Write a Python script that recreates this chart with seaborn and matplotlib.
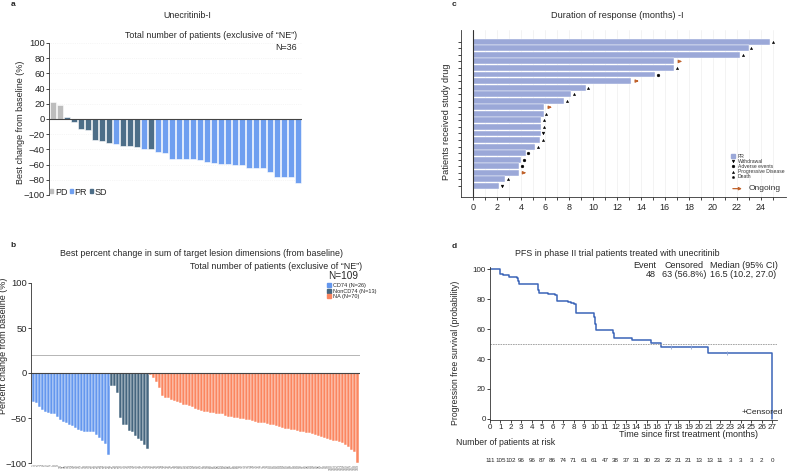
import numpy as np
import pandas as pd
import matplotlib
matplotlib.use("Agg")
import matplotlib.pyplot as plt
import seaborn as sns
from matplotlib.patches import Patch
from matplotlib.lines import Line2D

# ---- panel a: best change, Unecritinib-I
a_change = [23, 19, 3, -4, -13, -14, -27, -29, -31, -33, -35, -35, -37, -39, -39,
            -44, -45, -52, -52, -53, -53, -54, -57, -58, -59, -59, -60, -60,
            -64, -64, -64, -70, -76, -76, -76, -84]
a_resp = ["PD", "PD", "SD", "SD", "SD", "SD", "SD", "SD", "SD", "PR", "SD", "SD",
          "SD", "PR", "SD", "PR", "PR", "PR", "PR", "PR", "PR", "PR", "PR", "PR",
          "PR", "PR", "PR", "PR", "PR", "PR", "PR", "PR", "PR", "PR", "PR", "PR"]

# ---- panel b: best percent change by CD74 status
b_cd74 = [-32, -33, -38, -41, -43, -44, -45, -46, -49, -52, -54, -56, -58, -59,
          -61, -63, -64, -66, -66, -66, -66, -69, -72, -76, -79, -91]
b_noncd74 = [-14, -14, -22, -50, -58, -58, -64, -66, -70, -73, -76, -80, -84]
b_na = [-2, -6, -10, -17, -26, -28, -28, -30, -31, -32,
        -33, -35, -36, -37, -38, -40, -41, -42, -43, -43,
        -44, -44, -45, -45, -46, -48, -49, -49, -50, -50,
        -51, -51, -52, -52, -53, -54, -55, -56, -56, -57,
        -58, -58, -59, -60, -61, -62, -62, -63, -63, -64,
        -65, -66, -67, -67, -68, -69, -70, -71, -72, -73,
        -74, -75, -76, -77, -78, -80, -82, -85, -88, -100]
b_groups = ["CD74 (N=26)", "NonCD74 (N=13)", "NA (N=70)"]

# ---- panel c: duration of response (months)
c_dor = [24.8, 23.0, 22.3, 16.8, 16.8, 15.2, 13.2, 9.4, 8.2, 7.6, 5.95, 5.9,
         5.7, 5.7, 5.65, 5.6, 5.2, 4.4, 4.0, 3.85, 3.8, 2.7, 2.2]
c_event = ["Progressive Disease", "Progressive Disease", "Progressive Disease", "Ongoing",
           "Progressive Disease", "Adverse events", "Ongoing", "Progressive Disease",
           "Progressive Disease", "Progressive Disease", "Ongoing", "Progressive Disease",
           "Progressive Disease", "Progressive Disease", "Withdrawal", "Progressive Disease",
           "Progressive Disease", "Adverse events", "Adverse events", "Adverse events",
           "Ongoing", "Progressive Disease", "Withdrawal"]

# ---- panel d: PFS Kaplan-Meier
km_time = [0, 0.96, 1.2, 1.85, 2.55, 2.7, 2.8, 4.56, 4.72, 5.5, 6.26, 6.4, 7.44,
           7.76, 8.07, 8.2, 9.9, 10.0, 10.1, 11.75, 11.9, 13.56, 15.4, 16.4, 20.85, 27.0]
km_surv = [100, 97.1, 96.4, 95.1, 94.2, 92.4, 90.4, 86.2, 84.4, 83.5, 82.6, 79.1, 78.2,
           77.4, 76.6, 70.8, 68.4, 63.5, 59.7, 57.2, 53.9, 52.6, 50.6, 48.3, 44.3, 0]
censor_time = [17.3, 19.2, 22.7]
censor_surv = [48.3, 48.3, 44.3]
risk_months = list(range(28))
at_risk = [111, 105, 102, 96, 96, 87, 86, 74, 71, 61, 61, 47, 38, 37, 31, 30, 23,
           22, 21, 21, 13, 13, 11, 3, 3, 3, 2, 0]

sns.set_style("white")
plt.rcParams['font.family'] = ['Liberation Sans', 'DejaVu Sans']

W, H = 788, 473
fig = plt.figure(figsize=(W / 100, H / 100), dpi=100)


def box(l, t, r, b):
    return [l / W, 1 - b / H, (r - l) / W, (b - t) / H]


def ftext(x, y, s, **kw):
    fig.text(x / W, 1 - y / H, s, **kw)


# ================= panel a
resp_colors = {"PD": "#bdbdbd", "PR": "#6f9ff0", "SD": "#4d6e88"}
ax_a = fig.add_axes(box(49, 43, 302, 195))
df_a = pd.DataFrame({"patient": range(len(a_change)), "change": a_change, "resp": a_resp})
sns.barplot(data=df_a, x="patient", y="change", hue="resp", palette=resp_colors,
            hue_order=["PD", "PR", "SD"], dodge=False, width=0.86, saturation=1,
            errorbar=None, legend=False, edgecolor="white", linewidth=0.4, ax=ax_a)
ax_a.set_xlim(-0.6, len(a_change) - 0.4)
ax_a.set_ylim(-100, 100)
ax_a.set_yticks(range(-100, 101, 20))
ax_a.set_xticks([])
ax_a.set_xlabel("")
ax_a.set_ylabel("Best change from baseline (%)", fontsize=6.5)
ax_a.yaxis.set_label_coords(-0.095, 0.48)
ax_a.tick_params(axis="y", labelsize=6.8, length=2, width=0.6, pad=1, direction="out", left=True)
ax_a.yaxis.grid(True, color="#eeeeee", lw=0.5, ls=":")
ax_a.set_axisbelow(True)
ax_a.axhline(0, color="#444444", lw=0.8)
for s in ["top", "right", "bottom"]:
    ax_a.spines[s].set_visible(False)
ax_a.spines["left"].set_linewidth(0.6)
ax_a.spines["left"].set_color("#333333")
ax_a.legend(handles=[Patch(color=resp_colors[k], label=k) for k in ["PD", "PR", "SD"]],
            loc="lower left", bbox_to_anchor=(0.005, -0.01), ncol=3, frameon=False,
            fontsize=6.5, handlelength=0.35, handleheight=0.35, handletextpad=0.15,
            columnspacing=0.3, borderaxespad=0, borderpad=0)
ftext(187, 15, "Unecritinib-I", fontsize=6.4, ha="center", va="center")
ftext(297, 36, "Total number of patients (exclusive of \u201cNE\u201d)", fontsize=6.4, ha="right", va="center")
ftext(297, 48, "N=36", fontsize=6.4, ha="right", va="center")
ftext(13, 4, "a", fontsize=6, fontweight="bold", ha="center", va="center")

# ================= panel b
grp_colors = dict(zip(b_groups, ["#6497ee", "#46667f", "#fb8660"]))
b_vals = b_cd74 + b_noncd74 + b_na
b_grp = [b_groups[0]] * len(b_cd74) + [b_groups[1]] * len(b_noncd74) + [b_groups[2]] * len(b_na)
df_b = pd.DataFrame({"patient": range(len(b_vals)), "change": b_vals, "group": b_grp})
ax_b = fig.add_axes(box(31, 283, 360, 463))
sns.barplot(data=df_b, x="patient", y="change", hue="group", palette=grp_colors,
            hue_order=b_groups, dodge=False, width=0.85, saturation=1,
            errorbar=None, legend=False, edgecolor="white", linewidth=0.35, ax=ax_b)
ax_b.set_xlim(-0.8, len(b_vals) - 0.2)
ax_b.set_ylim(-100, 100)
ax_b.set_yticks([-100, -50, 0, 50, 100])
ax_b.set_xticks(range(len(b_vals)))
ax_b.set_xticklabels([str(i + 1) for i in range(len(b_vals))], rotation=90,
                     fontsize=2.5, color="#666666")
ax_b.tick_params(axis="x", length=0, pad=1)
ax_b.tick_params(axis="y", labelsize=6.8, length=2, width=0.6, pad=1, left=True)
ax_b.set_xlabel("")
ax_b.set_ylabel("Percent change from baseline (%)", fontsize=6.5)
ax_b.yaxis.set_label_coords(-0.07, 0.65)
ax_b.axhline(20, color="#aaaaaa", lw=0.6)
ax_b.axhline(0, color="#444444", lw=0.8)
for s in ["top", "right", "bottom"]:
    ax_b.spines[s].set_visible(False)
ax_b.spines["left"].set_linewidth(0.6)
ax_b.spines["left"].set_color("#333333")
ax_b.legend(handles=[Patch(color=grp_colors[g], label=g) for g in b_groups],
            loc="upper left", bbox_to_anchor=(0.9, 1.0), frameon=False, fontsize=4,
            handlelength=0.7, handleheight=0.7, handletextpad=0.3, labelspacing=0.1,
            borderaxespad=0, borderpad=0)
ftext(202, 254, "Best percent change in sum of target lesion dimensions (from baseline)",
      fontsize=6.4, ha="center", va="center")
ftext(362, 266, "Total number of patients (exclusive of \u201cNE\u201d)", fontsize=6.4, ha="right", va="center")
ftext(358, 275.5, "N=109", fontsize=7.2, ha="right", va="center")
ftext(13, 245, "b", fontsize=6, fontweight="bold", ha="center", va="center")

# ================= panel c
ax_c = fig.add_axes(box(461, 30, 786, 197))
df_c = pd.DataFrame({"row": [f"r{i}" for i in range(len(c_dor))], "dor": c_dor, "event": c_event})
sns.barplot(data=df_c, x="dor", y="row", orient="h", color="#9ba8d8", saturation=1,
            width=0.9, errorbar=None, edgecolor="white", linewidth=0.3, ax=ax_c)
ax_c.set_xlim(-1, 26.1)
ax_c.set_ylim(len(c_dor) + 0.7, -1.8)
ax_c.set_xticks(range(0, 25, 2))
ax_c.set_xticks(range(1, 26, 2), minor=True)
ax_c.set_yticklabels([])
ax_c.tick_params(axis="x", which="both", labelsize=6.5, length=2.5, width=0.6, pad=2, bottom=True)
ax_c.tick_params(axis="y", length=2, width=0.6, left=True)
ax_c.set_xlabel("")
ax_c.set_ylabel("Patients received study drug", fontsize=6.6)
ax_c.yaxis.set_label_coords(-0.032, 0.45)
ax_c.grid(axis="x", which="both", color="#eeeeee", lw=0.5)
ax_c.set_axisbelow(True)
ax_c.axvline(0, color="#333333", lw=0.8)
for s in ["top", "right"]:
    ax_c.spines[s].set_visible(False)
for s in ["left", "bottom"]:
    ax_c.spines[s].set_linewidth(0.6)
    ax_c.spines[s].set_color("#333333")

ev_markers = {"Withdrawal": ("v", 2.0), "Adverse events": ("o", 2.0),
              "Progressive Disease": ("^", 1.7), "Death": ("p", 1.8)}
for ev, (mk, ms) in ev_markers.items():
    sub = df_c[df_c["event"] == ev]
    ax_c.plot(sub["dor"] + 0.22, sub.index, ls="", marker=mk, ms=ms, color="black", mew=0.3)
arrow_col = "#c0622b"
for i, row in df_c[df_c["event"] == "Ongoing"].iterrows():
    ax_c.annotate("", xy=(row["dor"] + 0.85, i), xytext=(row["dor"] + 0.2, i),
                  arrowprops=dict(arrowstyle="-|>", color=arrow_col, lw=0.9, mutation_scale=4))

# legend (drawn in axes coords)
lx, ly0, dy = 0.838, 0.245, 0.031
ax_c.plot([lx], [ly0], transform=ax_c.transAxes, marker="s", ms=3.0, color="#9ba8d8", ls="")
ax_c.text(lx + 0.014, ly0, "PR", transform=ax_c.transAxes, fontsize=3.6, va="center", color="#333333")
for k, ev in enumerate(["Withdrawal", "Adverse events", "Progressive Disease", "Death"]):
    mk, ms = ev_markers[ev]
    y = ly0 - dy * (k + 1)
    ax_c.plot([lx], [y], transform=ax_c.transAxes, marker=mk, ms=ms, color="black", ls="", mew=0.3)
    ax_c.text(lx + 0.014, y, ev, transform=ax_c.transAxes, fontsize=3.6, va="center", color="#333333")
ax_c.annotate("", xy=(lx + 0.035, 0.05), xytext=(lx - 0.01, 0.05), xycoords="axes fraction",
              arrowprops=dict(arrowstyle="-|>", color=arrow_col, lw=0.9, mutation_scale=4))
ax_c.text(lx + 0.047, 0.05, "Ongoing", transform=ax_c.transAxes, fontsize=6, va="center", color="#333333")
ftext(617, 15, "Duration of response (months) -I", fontsize=6.6, ha="center", va="center")
ftext(454, 4, "c", fontsize=6, fontweight="bold", ha="center", va="center")

# ================= panel d
ax_d = fig.add_axes(box(490, 267, 777, 420))
sns.lineplot(x=km_time, y=km_surv, drawstyle="steps-post", estimator=None, sort=False,
             color="#3b64b8", lw=1.1, ax=ax_d)
ax_d.plot(censor_time, censor_surv, ls="", marker="|", ms=3, mew=0.6, color="#8fa6d6")
ax_d.axhline(50, color="#999999", lw=0.6, ls=(0, (2, 1)))
ax_d.set_xlim(0, 27.45)
ax_d.set_ylim(-0.8, 101.6)
ax_d.set_xticks(risk_months)
ax_d.set_yticks(range(0, 101, 20))
ax_d.tick_params(axis="both", labelsize=5.8, length=2, width=0.6, pad=1, bottom=True, left=True)
ax_d.set_xlabel("Time since first treatment (months)", fontsize=6.5)
ax_d.xaxis.set_label_coords(0.69, -0.065)
ax_d.set_ylabel("Progression free survival (probability)", fontsize=6.2)
ax_d.yaxis.set_label_coords(-0.105, 0.44)
for s in ["top", "right"]:
    ax_d.spines[s].set_visible(False)
for s in ["left", "bottom"]:
    ax_d.spines[s].set_linewidth(0.6)
    ax_d.spines[s].set_color("#333333")
ax_d.text(0.875, 0.05, "+Censored", transform=ax_d.transAxes, fontsize=6, va="center", ha="left")
ax_d.text(-0.118, -0.145, "Number of patients at risk", transform=ax_d.transAxes,
          fontsize=6.2, ha="left", va="center")
trans = ax_d.get_xaxis_transform()
for m, n in zip(risk_months, at_risk):
    ax_d.text(m, -0.265, str(n), transform=trans, fontsize=4.5, ha="center", va="center")
ftext(617, 253, "PFS in phase II trial patients treated with unecritinib", fontsize=6.4,
      ha="center", va="center")
ftext(656, 265, "Event", fontsize=6.5, ha="right", va="center")
ftext(656, 274.5, "48", fontsize=6.5, ha="right", va="center")
ftext(684, 265, "Censored", fontsize=6.5, ha="center", va="center")
ftext(684, 274.5, "63 (56.8%)", fontsize=6.5, ha="center", va="center")
ftext(710, 265, "Median (95% CI)", fontsize=6.5, ha="left", va="center")
ftext(710, 274.5, "16.5 (10.2, 27.0)", fontsize=6.5, ha="left", va="center")
ftext(454, 246, "d", fontsize=6, fontweight="bold", ha="center", va="center")

fig.savefig("out.png", dpi=100)
